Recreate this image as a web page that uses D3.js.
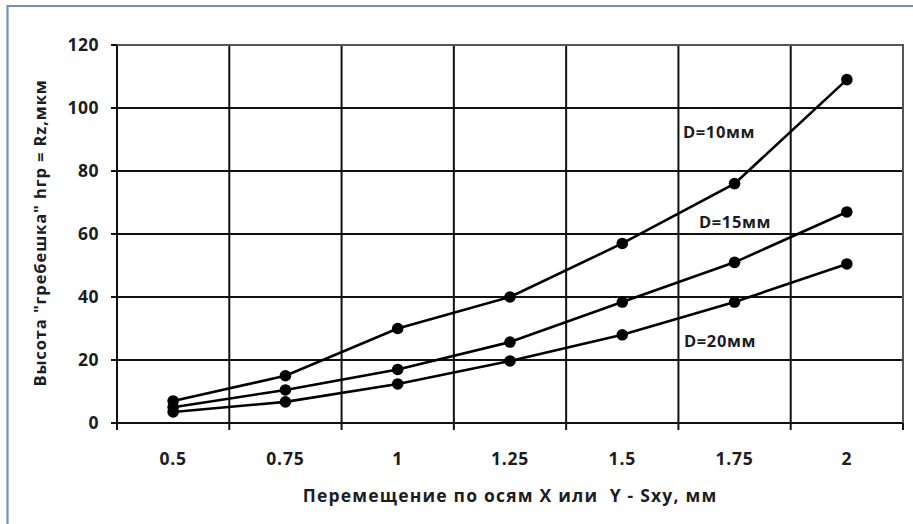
<!DOCTYPE html>
<html><head><meta charset="utf-8">
<script src="https://cdn.jsdelivr.net/npm/d3@7"></script>
<style>body{margin:0;background:#fff}svg{display:block}</style>
</head><body>
<svg id="c" width="913" height="524"></svg>
<script>
const categories = ["0.5","0.75","1","1.25","1.5","1.75","2"];
const d10 = [7, 15, 30, 40, 57, 76, 109];
const d15 = [5, 10.5, 17, 25.7, 38.4, 51, 67];
const d20 = [3.5, 6.7, 12.4, 19.7, 28, 38.4, 50.5];
const seriesNames = ["D=10мм","D=15мм","D=20мм"];
const yTicks = [0,20,40,60,80,100,120];
const xTitle = "Перемещение по осям X или  Y - Sxy, мм";
const yTitle = "Высота \"гребешка\" hгр = Rz,мкм";

const svg = d3.select("#c");
const font = "'Open Sans', 'Liberation Sans', sans-serif";
const textColor = "#1c1c24";
const L = 117, R = 903, T = 45, B = 423;

// outer frame (only top & left visible)
svg.append("path").attr("d", "M913,6H7.5V524").attr("fill","none").attr("stroke","#7391bb").attr("stroke-width",2.2);

const x = d3.scaleBand().domain(categories).range([L, R]);
const y = d3.scaleLinear().domain([0,120]).range([B, T]);

// horizontal gridlines
const g = svg.append("g");
g.selectAll("line.h").data(yTicks).join("line")
  .attr("x1", L - 6).attr("x2", R).attr("y1", d => y(d)).attr("y2", d => y(d))
  .attr("stroke", "#111").attr("stroke-width", 2);
// vertical gridlines at band boundaries
const bounds = categories.map(c => x(c)).concat([R]);
g.selectAll("line.v").data(bounds).join("line")
  .attr("x1", d => d).attr("x2", d => d).attr("y1", T).attr("y2", B + 7)
  .attr("stroke", "#111").attr("stroke-width", 2);
svg.append("path").attr("d", `M${L},${T}H${R}V${B}`).attr("fill","none").attr("stroke","#555").attr("stroke-width",2);

// y tick labels
svg.append("g").selectAll("text").data(yTicks).join("text")
  .attr("x", 99).attr("y", d => y(d)).attr("dy","0.36em").attr("text-anchor","end")
  .attr("font-family", font).attr("font-weight","bold").attr("font-size", 17.5).attr("letter-spacing", 0.5).attr("fill", textColor)
  .text(d => d);
// x tick labels
svg.append("g").selectAll("text").data(categories).join("text")
  .attr("x", d => x(d) + x.bandwidth()/2).attr("y", 465).attr("text-anchor","middle")
  .attr("font-family", font).attr("font-weight","bold").attr("font-size", 17.5).attr("letter-spacing", 0.8).attr("fill", textColor)
  .text(d => d);

// axis titles
svg.append("text").attr("x", 510).attr("y", 502).attr("text-anchor","middle")
  .attr("font-family", font).attr("font-weight","bold").attr("font-size", 17.5).attr("letter-spacing", 1.2).attr("fill", textColor)
  .attr("xml:space","preserve").style("white-space","pre").text(xTitle);
svg.append("text").attr("transform","translate(46,233) rotate(-90)").attr("text-anchor","middle")
  .attr("font-family", font).attr("font-weight","bold").attr("font-size", 16.5).attr("letter-spacing", 0.9).attr("fill", textColor)
  .text(yTitle);

// series
const series = [d10, d15, d20];
const line = d3.line().x((d,i) => x(categories[i]) + x.bandwidth()/2).y(d => y(d));
series.forEach(s => {
  svg.append("path").attr("d", line(s)).attr("fill","none").attr("stroke","#000").attr("stroke-width",2.6);
  svg.append("g").selectAll("circle").data(s).join("circle")
    .attr("cx", (d,i) => x(categories[i]) + x.bandwidth()/2).attr("cy", d => y(d)).attr("r", 5.8).attr("fill","#000");
});

// series labels
const labelPos = [[683,132],[699,222],[684,341]];
svg.append("g").selectAll("text").data(seriesNames).join("text")
  .attr("x", (d,i) => labelPos[i][0]).attr("y", (d,i) => labelPos[i][1]).attr("dy","0.36em")
  .attr("font-family", font).attr("font-weight","bold").attr("font-size", 16.5).attr("letter-spacing", 0.6).attr("fill", textColor)
  .text(d => d);
</script>
</body></html>
